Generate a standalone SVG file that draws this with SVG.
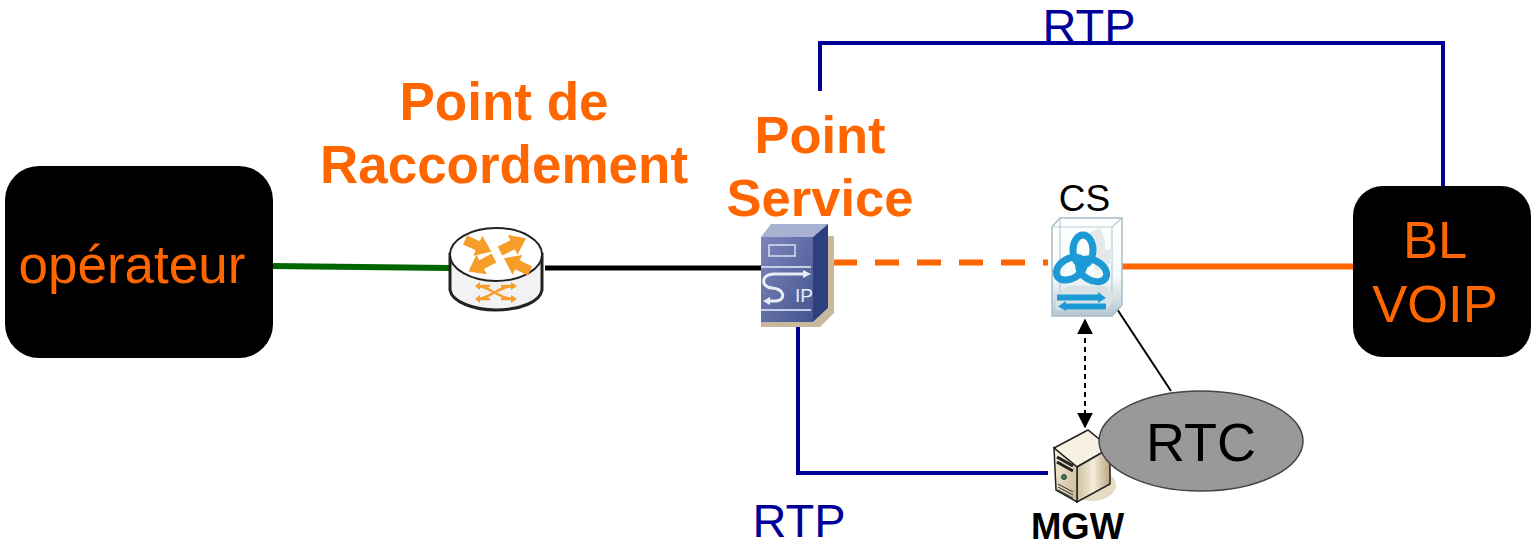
<svg xmlns="http://www.w3.org/2000/svg" width="1533" height="547" viewBox="0 0 1533 547">
<defs>
<style>
text{font-family:"Liberation Sans",Arial,sans-serif}
.or{fill:#ff6600}
.b{font-weight:bold}
.bl{fill:#000099}
.rtp{fill:none;stroke:#000099;stroke-width:4}
.arr{fill:#f99d2a}
.tri{fill:#1b9ad6}
</style>
<linearGradient id="g1" x1="0" y1="0" x2="1" y2="1"><stop offset="0" stop-color="#7b86bb"/><stop offset="1" stop-color="#46558f"/></linearGradient>
<linearGradient id="g2" x1="0" y1="0" x2="0" y2="1"><stop offset="0" stop-color="#ffffff"/><stop offset=".6" stop-color="#f6fafb"/><stop offset="1" stop-color="#b4c8d2"/></linearGradient>
<linearGradient id="g3" x1="0" y1="0" x2="1" y2="1"><stop offset="0" stop-color="#f7f1df"/><stop offset="1" stop-color="#c9b792"/></linearGradient>
<linearGradient id="g4" x1="0" y1="0" x2="1" y2="0"><stop offset="0" stop-color="#cfc09f"/><stop offset="0.5" stop-color="#f3ecd9"/><stop offset="1" stop-color="#b8a680"/></linearGradient>
<marker id="ah" viewBox="0 0 10 10" refX="9" refY="5" markerWidth="16" markerHeight="16" markerUnits="userSpaceOnUse" orient="auto-start-reverse"><path d="M0 0L10 5L0 10Z" fill="#000"/></marker>
<path id="ra" d="M0-5H14V-11L29 0L14 11V5H0Z"/>
<ellipse id="lobe" cx="1083" cy="250" rx="10" ry="15" fill="none" stroke="#1b9ad6" stroke-width="7"/>
</defs>
<g id="connectors">
<path d="M271 266L450 268" fill="none" stroke="#006600" stroke-width="6"/>
<path d="M545 268H762" fill="none" stroke="#000" stroke-width="5"/>
<path d="M833 262.500H1048" fill="none" stroke="#ff6600" stroke-width="6" stroke-dasharray="24 18"/>
<path d="M1122 266.500H1356" fill="none" stroke="#ff6600" stroke-width="6"/>
<path class="rtp" d="M820 91V43H1443V187"/>
<path class="rtp" d="M798 326V473H1048"/>
<path d="M1085 320V427" fill="none" stroke="#000" stroke-width="2" stroke-dasharray="5 4" marker-start="url(#ah)" marker-end="url(#ah)"/>
<path d="M1117 309L1171 391" fill="none" stroke="#000" stroke-width="2"/>
</g>
<g id="operateur">
<rect x="5" y="166" width="268" height="192" rx="34" fill="#000"/>
<text class="or" x="132" y="283" font-size="53" text-anchor="middle">opérateur</text>
</g>
<g id="point-raccordement">
<path d="M450 254V290C452 302 474 310 496 310C520 310 540 302 542 290V254Z" fill="#f2f2f2" stroke="#222" stroke-width="3"/>
<ellipse cx="496" cy="254.500" rx="46" ry="26.500" fill="#fff" stroke="#222" stroke-width="2"/>
<use href="#ra" class="arr" transform="translate(465 240) rotate(24)"/>
<use href="#ra" class="arr" transform="translate(500 251) rotate(-26)"/>
<use href="#ra" class="arr" transform="translate(494 258) rotate(152)"/>
<use href="#ra" class="arr" transform="translate(530 271) rotate(206)"/>
<path d="M477 286C490 286 498 299 514 299M477 299C490 299 498 286 514 286M477 286H490M501 286H514M477 299H490M501 299H514" fill="none" stroke="#f99d2a" stroke-width="2.500"/>
<path d="M480 282L475 286L480 290ZM511 282L517 286L511 290ZM480 295L475 299L480 303ZM511 295L517 299L511 303Z" class="arr"/>
<text class="or b" x="504" y="120" font-size="53" text-anchor="middle">Point de</text>
<text class="or b" x="504" y="183" font-size="53" text-anchor="middle">Raccordement</text>
</g>
<g id="point-service">
<path d="M813 322H761V327H820L834 313V236H828V308Z" fill="#c8b99c"/>
<path d="M761 237L771 224H828L813 237Z" fill="#a9b2d2"/>
<path d="M813 237L828 224V308L813 322Z" fill="#2c407f"/>
<rect x="761" y="237" width="52" height="85" fill="url(#g1)"/>
<rect x="769" y="245" width="26" height="11" fill="none" stroke="#c7cfe6" stroke-width="1.800"/>
<path d="M761 267H811M761 310H811" fill="none" stroke="#c7cfe6" stroke-width="1.800"/>
<path d="M806 274H774C761 274 760 287 772 288C785 289 786 300 776 301H768" fill="none" stroke="#e8ecf6" stroke-width="3"/>
<path d="M803 270L811 274L803 278ZM770 297L763 301L770 305Z" fill="#e8ecf6"/>
<text x="795" y="302" font-size="19" fill="#e8ecf6">IP</text>
<text class="or b" x="820" y="153" font-size="52.500" text-anchor="middle">Point</text>
<text class="or b" x="820" y="216" font-size="52.500" text-anchor="middle">Service</text>
</g>
<g id="cs">
<path d="M1052 227L1060 218H1122V305L1112 316H1052Z" fill="url(#g2)" stroke="#a9bcc5" stroke-width="1.500"/>
<path d="M1052 227H1112V316M1112 227L1122 218M1060 218V306" fill="none" stroke="#b9cbd3" stroke-width="1.200"/>
<path d="M1090 232L1100 228L1105 240V250L1112 248V262L1100 270H1095Z" fill="#e4e8e8"/>
<path d="M1056 296L1068 286H1105L1116 298L1106 310H1056Z" fill="#d8e2e4"/>
<use href="#lobe"/>
<use href="#lobe" transform="rotate(120 1082 263)"/>
<use href="#lobe" transform="rotate(240 1082 263)"/>
<path class="tri" d="M1057 294.500H1098V292L1106 298L1098 303V300.500H1057Z"/>
<path class="tri" d="M1106 303.500H1066V301L1058 306.500L1066 311V309.500H1106Z"/>
<text x="1084.500" y="211" font-size="37" text-anchor="middle">CS</text>
</g>
<g id="bl-voip">
<rect x="1353" y="186" width="178" height="171" rx="30" fill="#000"/>
<text class="or" x="1435" y="258" font-size="52.500" text-anchor="middle">BL</text>
<text class="or" x="1435" y="322" font-size="52.500" text-anchor="middle">VOIP</text>
</g>
<g id="mgw">
<ellipse cx="1092" cy="485" rx="24" ry="16" fill="#e6dcc2"/>
<path d="M1054 448L1088 430L1110 448L1077 467Z" fill="#f6f1e3" stroke="#222" stroke-width="1.500"/>
<path d="M1077 467L1110 448V484L1077 502Z" fill="url(#g4)" stroke="#222" stroke-width="1.500"/>
<path d="M1054 448L1077 467V502L1056 490Z" fill="url(#g3)" stroke="#222" stroke-width="1.500"/>
<path d="M1057 457L1073 466M1057 462L1073 471" fill="none" stroke="#222" stroke-width="3"/>
<circle cx="1064" cy="477" r="2.500" fill="#3d7a68" stroke="#222" stroke-width=".8"/>
<path d="M1058 484L1073 492M1058 487L1073 495M1058 490L1073 498" fill="none" stroke="#333" stroke-width="1"/>
<text class="b" x="1077.500" y="539" font-size="36.500" text-anchor="middle">MGW</text>
</g>
<g id="rtc">
<ellipse cx="1201" cy="441" rx="102" ry="50" fill="#999" stroke="#444" stroke-width="1.500"/>
<text x="1201" y="461" font-size="54" text-anchor="middle">RTC</text>
</g>
<g id="labels">
<text class="bl" x="1089" y="42" font-size="47" text-anchor="middle">RTP</text>
<text class="bl" x="799" y="537" font-size="47" text-anchor="middle">RTP</text>
</g>
</svg>
